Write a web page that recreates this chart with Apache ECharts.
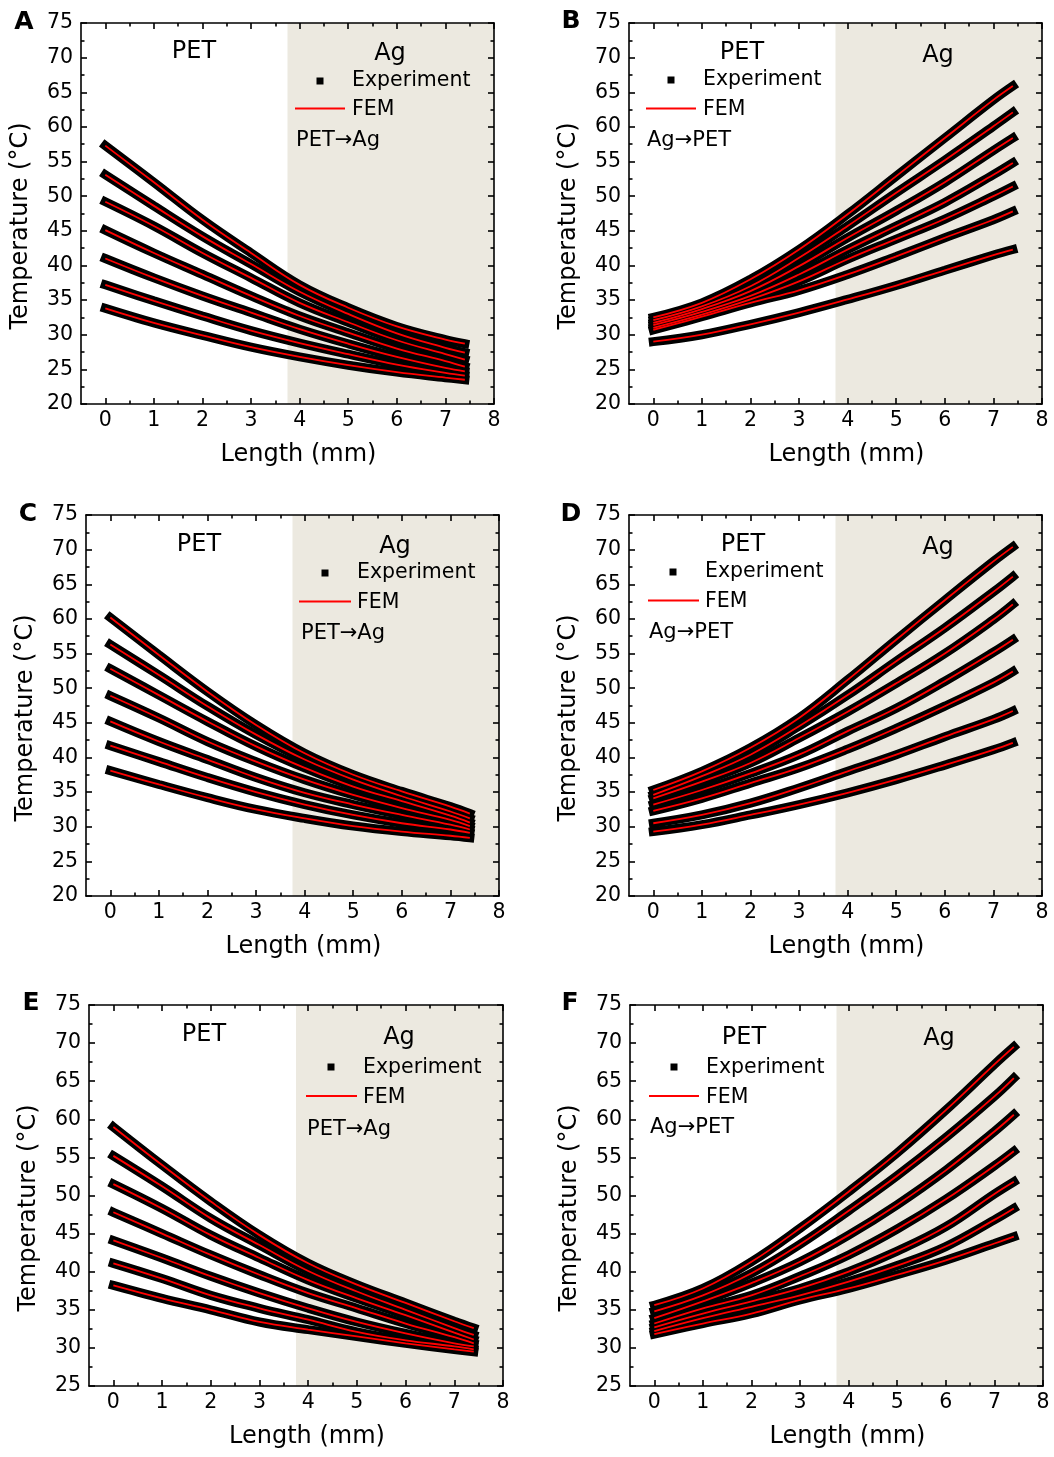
<!DOCTYPE html>
<html><head><meta charset="utf-8">
<script src="https://cdn.jsdelivr.net/npm/echarts@6/dist/echarts.min.js"></script>
<style>html,body{margin:0;padding:0;background:#fff}#c{width:1054px;height:1457px}</style>
</head><body><div id="c"></div>
<script>
// ---- data ----
const lengthMm = [0, 1, 2, 3, 4, 5, 6, 7, 7.4];
const xTickLabels = [0, 1, 2, 3, 4, 5, 6, 7, 8];
const xMinorTicks = [0.5, 1.5, 2.5, 3.5, 4.5, 5.5, 6.5, 7.5];
const agStart = 3.75;

const tempA = [
  [57.3, 52.0, 46.6, 41.8, 37.2, 33.9, 31.2, 29.3, 28.7],
  [53.1, 48.6, 44.2, 40.2, 36.2, 33.0, 30.2, 28.1, 27.4],
  [49.2, 45.7, 41.8, 38.2, 34.6, 31.8, 29.2, 27.2, 26.4],
  [45.1, 41.8, 38.7, 35.6, 32.7, 30.3, 28.0, 26.2, 25.4],
  [41.0, 38.2, 35.6, 33.2, 30.8, 28.7, 26.8, 25.2, 24.7],
  [37.2, 34.9, 32.7, 30.6, 28.8, 27.2, 25.7, 24.5, 24.1],
  [33.8, 31.7, 29.9, 28.2, 26.8, 25.6, 24.6, 23.8, 23.5]
];
const tempB = [
  [32.5, 34.6, 38.0, 42.3, 47.4, 52.9, 58.4, 63.9, 65.9],
  [32.1, 34.1, 37.0, 41.1, 45.7, 50.5, 55.2, 60.1, 62.1],
  [31.7, 33.7, 36.3, 39.9, 44.0, 47.9, 52.0, 56.6, 58.4],
  [31.4, 33.3, 35.6, 38.7, 42.3, 45.7, 49.1, 53.1, 54.8],
  [31.0, 32.9, 35.1, 37.7, 40.9, 43.8, 46.7, 50.0, 51.4],
  [30.7, 32.6, 34.6, 36.4, 38.7, 41.3, 44.0, 46.6, 47.8],
  [29.0, 30.0, 31.5, 33.2, 35.1, 37.1, 39.3, 41.5, 42.3]
];
const tempC = [
  [60.2, 54.8, 49.5, 44.7, 40.6, 37.5, 35.1, 32.9, 31.9],
  [56.3, 51.9, 47.4, 43.3, 39.7, 36.8, 34.4, 32.2, 31.2],
  [52.8, 49.0, 45.2, 41.6, 38.5, 35.8, 33.7, 31.6, 30.6],
  [48.9, 45.7, 42.3, 39.4, 36.8, 34.6, 32.7, 31.0, 30.1],
  [45.2, 42.3, 39.7, 37.1, 34.9, 33.2, 31.7, 30.3, 29.6],
  [41.7, 39.4, 37.1, 35.0, 33.2, 31.7, 30.5, 29.6, 29.1],
  [38.1, 36.1, 34.2, 32.5, 31.2, 30.1, 29.3, 28.7, 28.4]
];
const tempD = [
  [35.3, 38.0, 41.4, 45.7, 51.2, 57.0, 62.7, 68.3, 70.4],
  [34.6, 37.3, 40.4, 44.5, 49.0, 53.9, 58.7, 63.9, 66.1],
  [34.1, 36.5, 39.2, 42.8, 46.6, 50.7, 55.0, 59.9, 62.1],
  [33.2, 35.3, 37.7, 40.4, 43.8, 47.1, 51.0, 55.2, 57.0],
  [32.3, 34.1, 36.3, 38.5, 41.2, 44.2, 47.4, 50.8, 52.4],
  [30.5, 31.7, 33.4, 35.6, 38.0, 40.4, 43.0, 45.5, 46.7],
  [29.3, 30.3, 31.7, 33.2, 34.9, 36.8, 38.9, 41.1, 42.1]
];
const tempE = [
  [59.0, 54.0, 49.2, 44.8, 41.1, 38.3, 35.9, 33.5, 32.6],
  [55.2, 51.2, 47.0, 43.5, 40.1, 37.4, 35.0, 32.6, 31.7],
  [51.5, 48.3, 44.8, 41.8, 38.9, 36.5, 34.3, 32.0, 31.1],
  [47.8, 45.0, 42.2, 39.6, 37.2, 35.2, 33.2, 31.4, 30.6],
  [44.1, 41.8, 39.4, 37.2, 35.2, 33.4, 31.9, 30.6, 30.2],
  [41.1, 39.1, 36.9, 35.2, 33.7, 32.1, 31.0, 30.2, 29.8],
  [38.2, 36.5, 35.0, 33.4, 32.4, 31.5, 30.6, 29.8, 29.5]
];
const tempF = [
  [35.6, 37.8, 41.3, 45.7, 50.5, 55.6, 61.2, 67.2, 69.5],
  [34.8, 36.9, 39.8, 43.6, 48.0, 52.6, 57.6, 63.0, 65.4],
  [33.9, 36.1, 38.5, 41.3, 44.8, 48.8, 53.3, 58.4, 60.6],
  [33.2, 35.2, 36.9, 39.4, 42.2, 45.6, 49.5, 53.9, 55.8],
  [32.7, 34.5, 36.1, 37.8, 40.0, 42.7, 45.9, 50.2, 51.8],
  [32.2, 33.9, 35.4, 36.9, 38.7, 40.8, 43.3, 46.8, 48.3],
  [31.8, 33.2, 34.5, 36.3, 37.8, 39.6, 41.5, 43.7, 44.6]
];

// ---- layout ----
const FONT = 'DejaVu Sans';
const panels = [
  {tag:'A', data:tempA, yMin:20, grid:[81,23,413,381], letter:[24,22], pet:[194,52], ag:[390,54], sq:[320,81], expT:[352,81], femL:[295,345,108.5], femT:[352,110], dir:['PET\u2192Ag',296,141]},
  {tag:'B', data:tempB, yMin:20, grid:[629,23,413,381], letter:[571,21], pet:[742,53], ag:[938,56], sq:[671,80], expT:[703,80], femL:[646,696,108.5], femT:[703,110], dir:['Ag\u2192PET',647,141]},
  {tag:'C', data:tempC, yMin:20, grid:[86,515,413,381], letter:[28,514], pet:[199,545], ag:[395,547], sq:[325,573], expT:[357,573], femL:[299,351,601.5], femT:[357,603], dir:['PET\u2192Ag',301,634]},
  {tag:'D', data:tempD, yMin:20, grid:[629,515,413,381], letter:[571,514], pet:[743,545], ag:[938,548], sq:[673,572], expT:[705,572], femL:[648,699,600.5], femT:[705,602], dir:['Ag\u2192PET',649,633]},
  {tag:'E', data:tempE, yMin:25, grid:[89,1005,414,381], letter:[31,1003], pet:[204,1035], ag:[399,1038], sq:[331,1067], expT:[363,1068], femL:[306,357,1096], femT:[363,1098], dir:['PET\u2192Ag',307,1130]},
  {tag:'F', data:tempF, yMin:25, grid:[630,1005,413,381], letter:[570,1003], pet:[744,1038], ag:[939,1039], sq:[674,1067], expT:[706,1068], femL:[649,699,1096], femT:[706,1098], dir:['Ag\u2192PET',650,1128]}
];

const chart = echarts.init(document.getElementById('c'), null, {renderer:'canvas', width:1054, height:1457});
const axLine = {color:'#000', width:1.6};
const grids = [], xAxes = [], yAxes = [], series = [], graphics = [];

function txt(text, x, y, size, align, bold) {
  return {type:'text', x:x, y:y, z:100, silent:true,
    style:{text:text, fill:'#000', font:(bold?'bold ':'') + size + 'px "' + FONT + '"',
      align:align, textAlign:align, verticalAlign:'middle', textVerticalAlign:'middle'}};
}

panels.forEach((p, pi) => {
  grids.push({left:p.grid[0], top:p.grid[1], width:p.grid[2], height:p.grid[3], containLabel:false});
  const xb = {gridIndex:pi, type:'value', min:-0.5, max:8, splitLine:{show:false}, z:10};
  xAxes.push(Object.assign({}, xb, {position:'bottom',
    axisLine:{show:true, onZero:false, lineStyle:axLine},
    axisTick:{show:true, inside:true, length:6, lineStyle:axLine, customValues:xTickLabels},
    axisLabel:{show:true, customValues:xTickLabels, color:'#000', fontFamily:FONT, fontSize:20.5, margin:6},
    name:'Length (mm)', nameLocation:'middle', nameGap:39,
    nameTextStyle:{color:'#000', fontFamily:FONT, fontSize:24, padding:[0,0,0,22]}}));
  xAxes.push(Object.assign({}, xb, {position:'bottom',
    axisLine:{show:false, onZero:false},
    axisTick:{show:true, inside:true, length:3.5, lineStyle:axLine, customValues:xMinorTicks},
    axisLabel:{show:false}}));
  xAxes.push(Object.assign({}, xb, {position:'top',
    axisLine:{show:true, onZero:false, lineStyle:axLine},
    axisTick:{show:true, inside:true, length:6, lineStyle:axLine, customValues:xTickLabels},
    axisLabel:{show:false}}));
  xAxes.push(Object.assign({}, xb, {position:'top',
    axisLine:{show:false, onZero:false},
    axisTick:{show:true, inside:true, length:3.5, lineStyle:axLine, customValues:xMinorTicks},
    axisLabel:{show:false}}));
  const yb = {gridIndex:pi, type:'value', min:p.yMin, max:75, interval:5, splitLine:{show:false}, z:10,
    axisLine:{show:true, onZero:false, lineStyle:axLine},
    axisTick:{show:true, inside:true, length:6, lineStyle:axLine},
    minorTick:{show:true, splitNumber:2, length:3.5, lineStyle:axLine},
    minorSplitLine:{show:false}};
  yAxes.push(Object.assign({}, yb, {position:'left',
    axisLabel:{color:'#000', fontFamily:FONT, fontSize:20.5, margin:8},
    name:'Temperature (\u00B0C)', nameLocation:'middle', nameGap:48,
    nameTextStyle:{color:'#000', fontFamily:FONT, fontSize:24, padding:[0,25,0,0]}}));
  yAxes.push(Object.assign({}, yb, {position:'right', axisLabel:{show:false}}));

  // Ag region shading
  series.push({type:'line', xAxisIndex:4*pi, yAxisIndex:2*pi, data:[], silent:true, z:1,
    markArea:{silent:true, itemStyle:{color:'#ece9e0'}, data:[[{xAxis:agStart},{xAxis:8}]]}});
  p.data.forEach(vals => {
    series.push({name:'Experiment', type:'line', xAxisIndex:4*pi, yAxisIndex:2*pi,
      data:lengthMm.map((x,k)=>[x, vals[k]]), smooth:0.4, symbol:'none',
      lineStyle:{color:'#000', width:9, cap:'square'}, z:2, silent:true});
  });
  p.data.forEach(vals => {
    series.push({name:'FEM', type:'line', xAxisIndex:4*pi, yAxisIndex:2*pi,
      data:lengthMm.map((x,k)=>[x, vals[k]]), smooth:0.4, symbol:'none',
      lineStyle:{color:'#ff0000', width:1.8}, z:3, silent:true});
  });

  graphics.push(txt(p.tag, p.letter[0], p.letter[1], 25, 'center', true));
  graphics.push(txt('PET', p.pet[0], p.pet[1], 24, 'center'));
  graphics.push(txt('Ag', p.ag[0], p.ag[1], 24, 'center'));
  graphics.push({type:'rect', z:100, silent:true, shape:{x:p.sq[0]-3.5, y:p.sq[1]-3.5, width:7, height:7}, style:{fill:'#000'}});
  graphics.push(txt('Experiment', p.expT[0], p.expT[1], 20.5, 'left'));
  graphics.push({type:'line', z:100, silent:true, shape:{x1:p.femL[0], y1:p.femL[2], x2:p.femL[1], y2:p.femL[2]}, style:{stroke:'#ff0000', lineWidth:2}});
  graphics.push(txt('FEM', p.femT[0], p.femT[1], 20.5, 'left'));
  graphics.push(txt(p.dir[0], p.dir[1], p.dir[2], 21, 'left'));
});

chart.setOption({
  animation:false,
  backgroundColor:'#ffffff',
  grid:grids, xAxis:xAxes, yAxis:yAxes, series:series, graphic:graphics
});
</script>
</body></html>
